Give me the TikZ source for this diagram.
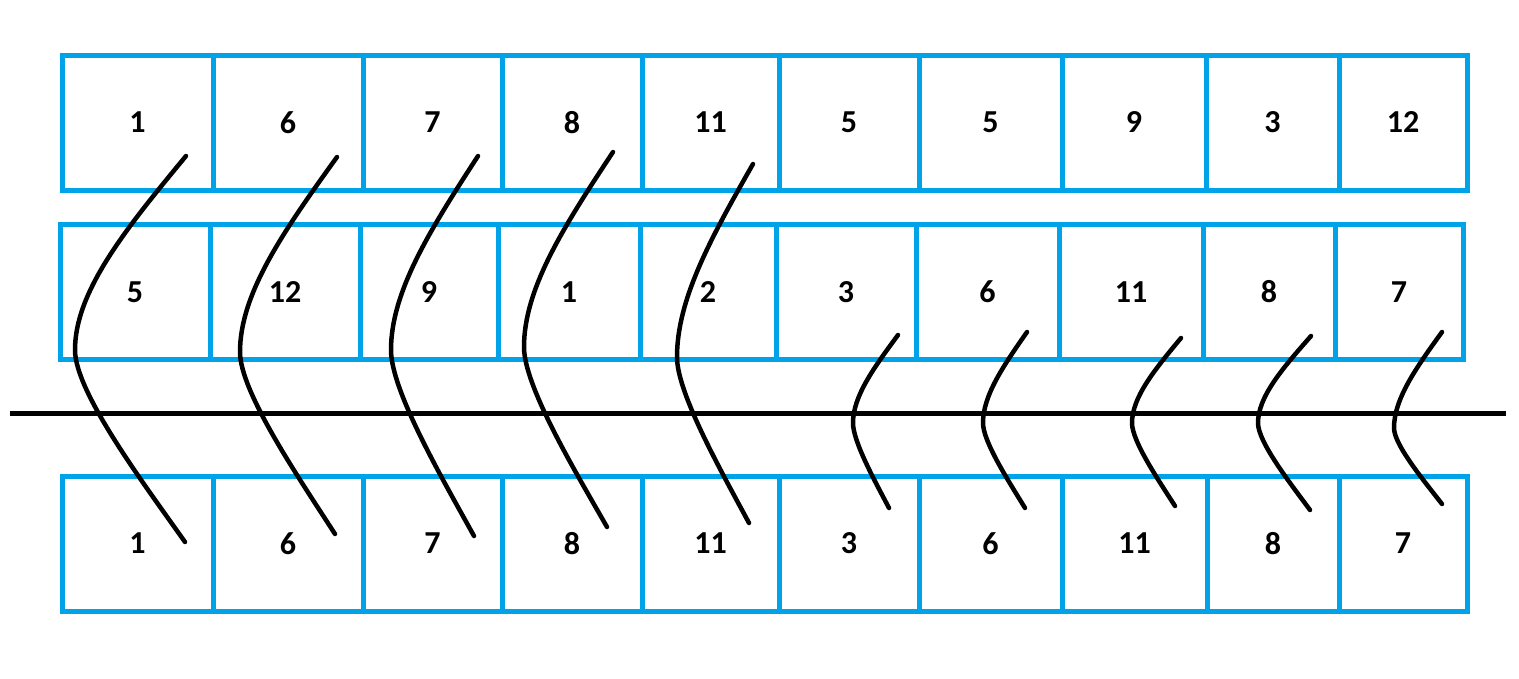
\documentclass[tikz,border=0pt]{standalone}
\usepackage{fontspec}
\setmainfont{Carlito}
\usetikzlibrary{positioning}
\definecolor{paintblue}{RGB}{0,162,232}

\begin{document}
\begin{tikzpicture}[x=1pt,y=-1pt,
  cell/.style={draw=paintblue,line width=5pt,rectangle,inner sep=0pt,outer sep=0pt,
    minimum height=135pt,font=\bfseries\fontsize{32}{32}\selectfont},
  stroke/.style={line width=4.5pt,line cap=round}]
  \useasboundingbox (0,0) rectangle (1519,678);
  % obere Reihe
  \foreach \l/\a/\b [count=\i] in {1/62/213,6/213/363,7/363/502,8/502/642,11/642/779,
      5/779/919,5/919/1062,9/1062/1206,3/1206/1339,12/1339/1467}
    \node[cell,minimum width={(\b-\a)*1pt}] (a\i) at ({(\a+\b)/2},122.5) {\l};
  % mittlere Reihe
  \foreach \l/\a/\b [count=\i] in {5/60/210,12/210/360,9/360/498,1/498/640,2/640/776,
      3/776/916,6/916/1059,11/1059/1203,8/1203/1335,7/1335/1463}
    \node[cell,minimum width={(\b-\a)*1pt}] (b\i) at ({(\a+\b)/2},292) {\l};
  % untere Reihe
  \foreach \l/\a/\b [count=\i] in {1/62/213,6/213/363,7/363/502,8/502/642,11/642/779,
      3/779/919,6/919/1062,11/1062/1207,8/1207/1339,7/1339/1467}
    \node[cell,minimum width={(\b-\a)*1pt}] (c\i) at ({(\a+\b)/2},543.5) {\l};
  \draw[line width=5pt] (10,413) -- (1506,413);
  \foreach \tx/\ty/\lx/\ly/\bx/\by in {186/156/75/350/185/542,337/157/240/352/335/534,
      478/156/391/350/474/536,613/152/524/347/607/527,753/164/677/357/749/523,
      898/335/853/423/889/508,1027/332/983/423/1025/508,1181/338/1132/423/1175/506,
      1311/336/1258/423/1310/510,1442/332/1394/428/1442/504}
    \draw[stroke] (\tx,\ty) .. controls ({\tx-0.55*(\tx-\lx)},{\ty+0.38*(\ly-\ty)})
      and (\lx,{\ly-0.3*(\ly-\ty)}) .. (\lx,\ly)
      .. controls (\lx,{\ly+0.22*(\by-\ly)}) and ({\bx-0.37*(\bx-\lx)},{\by-0.3*(\by-\ly)}) .. (\bx,\by);
\end{tikzpicture}
\end{document}
